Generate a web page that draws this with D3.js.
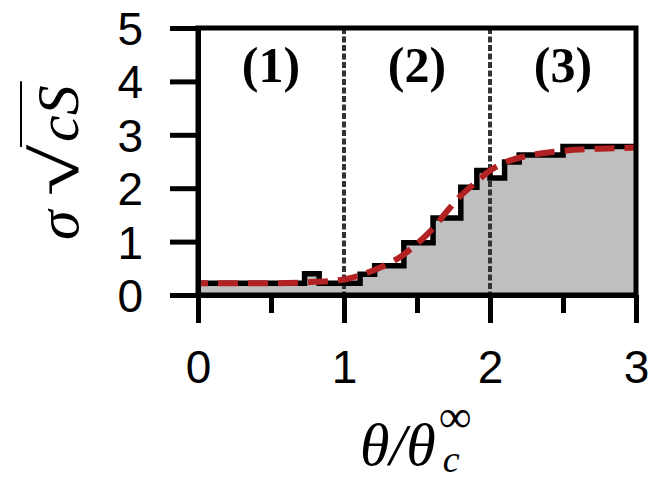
<!DOCTYPE html>
<head>
  <meta charset="utf-8">
  <script src="https://d3js.org/d3.v7.min.js"></script>
  <style>
    body { margin: 0; background: #fff; }
    .axis text { font-family: "Liberation Sans", Arial, sans-serif; font-size: 46px; fill: #000; }
    .axis path, .axis line { stroke: #000; stroke-width: 5px; }
    .region { font-family: "Liberation Serif", serif; font-weight: bold; font-size: 50px; text-anchor: middle; }
    .mathlabel { font-family: "Liberation Serif", serif; font-style: italic; }
  </style>
</head>

<body>
  <script>
    // histogram of sigma*sqrt(cS) vs theta/theta_c
    var stepEdges  = [0, 0.73, 0.83, 1.11, 1.21, 1.41, 1.61, 1.80, 1.91, 2.0, 2.1, 2.2, 2.5, 3.0];
    var stepValues = [0.22, 0.40, 0.22, 0.39, 0.55, 0.98, 1.44, 2.02, 2.33, 2.19, 2.49, 2.62, 2.78];

    // red dashed fit
    var fitTheta = [0, 0.25, 0.5, 0.75, 1.0, 1.1, 1.2, 1.3, 1.4, 1.5, 1.6, 1.7, 1.8, 1.9, 2.0, 2.1, 2.2, 2.3, 2.4, 2.5, 2.75, 3.0];
    var fitSigma = [0.22, 0.22, 0.22, 0.24, 0.29, 0.36, 0.46, 0.58, 0.74, 0.96, 1.22, 1.55, 1.86, 2.1, 2.33, 2.48, 2.57, 2.63, 2.67, 2.70, 2.74, 2.76];

    var regionPos = [1, 2];
    var regionLabels = ["(1)", "(2)", "(3)"];
    var regionCenters = [0.5, 1.5, 2.5];

    var xMajor = [0, 1, 2, 3];
    var xMinor = [0.5, 1.5, 2.5];
    var yTicks = [0, 1, 2, 3, 4, 5];

    var W = 664, H = 500;
    var plotLeft = 198, plotRight = 636, plotTop = 28, plotBottom = 295;

    var svg = d3.select("body").append("svg")
      .attr("width", W)
      .attr("height", H);

    var x = d3.scaleLinear().domain([0, 3]).range([plotLeft, plotRight]);
    var y = d3.scaleLinear().domain([0, 5]).range([plotBottom, plotTop]);

    var steps = stepEdges.map(function(e, i) {
      return { t: e, v: i < stepValues.length ? stepValues[i] : stepValues[stepValues.length - 1] };
    });
    var fit = fitTheta.map(function(t, i) { return { t: t, v: fitSigma[i] }; });

    // grey fill under histogram
    svg.append("path")
      .datum(steps)
      .attr("fill", "#bfbfbf")
      .attr("d", d3.area()
        .x(function(d) { return x(d.t); })
        .y0(y(0))
        .y1(function(d) { return y(d.v); })
        .curve(d3.curveStepAfter));

    // region dividers
    svg.selectAll(".divider")
      .data(regionPos)
      .enter().append("line")
      .attr("class", "divider")
      .attr("x1", function(d) { return x(d); })
      .attr("x2", function(d) { return x(d); })
      .attr("y1", y(5))
      .attr("y2", y(0))
      .attr("stroke", "#333")
      .attr("stroke-width", 4)
      .attr("stroke-dasharray", "6,2.5");

    // histogram outline
    svg.append("path")
      .datum(steps)
      .attr("fill", "none")
      .attr("stroke", "#000")
      .attr("stroke-width", 5.5)
      .attr("d", d3.line()
        .x(function(d) { return x(d.t); })
        .y(function(d) { return y(d.v); })
        .curve(d3.curveStepAfter));

    // fit curve
    svg.append("path")
      .datum(fit)
      .attr("fill", "none")
      .attr("stroke", "#b22222")
      .attr("stroke-width", 6)
      .attr("stroke-dasharray", "20,10")
      .attr("stroke-dashoffset", 10)
      .attr("d", d3.line()
        .x(function(d) { return x(d.t); })
        .y(function(d) { return y(d.v); })
        .curve(d3.curveMonotoneX));

    // frame
    svg.append("rect")
      .attr("x", plotLeft).attr("y", plotTop)
      .attr("width", plotRight - plotLeft).attr("height", plotBottom - plotTop)
      .attr("fill", "none")
      .attr("stroke", "#000")
      .attr("stroke-width", 5);

    // axes
    var xAxis = svg.append("g")
      .attr("class", "axis")
      .attr("transform", "translate(0," + plotBottom + ")")
      .call(d3.axisBottom(x).tickValues(xMajor).tickSize(28).tickSizeOuter(0).tickFormat(d3.format("d")));
    xAxis.selectAll("text").attr("y", 88).attr("dy", 0);

    svg.append("g")
      .attr("class", "axis")
      .attr("transform", "translate(0," + plotBottom + ")")
      .call(d3.axisBottom(x).tickValues(xMinor).tickSize(18).tickSizeOuter(0).tickFormat(""))
      .select(".domain").remove();

    var yAxis = svg.append("g")
      .attr("class", "axis")
      .attr("transform", "translate(" + plotLeft + ",0)")
      .call(d3.axisLeft(y).tickValues(yTicks).tickSize(28).tickSizeOuter(0).tickFormat(d3.format("d")));
    yAxis.selectAll("text").attr("x", -55).attr("dy", "0.36em");
    svg.selectAll(".axis line").attr("stroke-linecap", "butt");

    // region labels
    svg.selectAll(".region")
      .data(regionLabels)
      .enter().append("text")
      .attr("class", "region")
      .attr("x", function(d, i) { return x(regionCenters[i]); })
      .attr("y", 82)
      .text(function(d) { return d; });

    // x label: theta / theta_c^inf
    var xl = svg.append("text")
      .attr("class", "mathlabel")
      .attr("x", 360)
      .attr("y", 465)
      .attr("font-size", 60)
      .text("θ/θ");
    var xlEnd = 360 + xl.node().getComputedTextLength();
    svg.append("text")
      .attr("x", xlEnd + 3)
      .attr("y", 432)
      .attr("font-family", "Liberation Serif, serif")
      .attr("font-size", 46)
      .text("∞");
    svg.append("text")
      .attr("class", "mathlabel")
      .attr("x", xlEnd + 7)
      .attr("y", 472)
      .attr("font-size", 38)
      .text("c");

    // y label: sigma sqrt(cS), rotated
    var yl = svg.append("g")
      .attr("transform", "translate(78,242) rotate(-90)");
    yl.append("text")
      .attr("class", "mathlabel")
      .attr("x", 2).attr("y", 0)
      .attr("font-size", 60)
      .text("σ");
    var rad = yl.append("text")
      .attr("x", 0).attr("y", 0)
      .attr("font-family", "Liberation Serif, serif")
      .attr("font-size", 70)
      .text("√");
    // fit radical sign into its box
    var rb = rad.node().getBBox();
    var rx0 = 46, rx1 = 98, ry0 = -58, ry1 = 14;
    var sx = (rx1 - rx0) / rb.width, sy = (ry1 - ry0) / rb.height;
    rad.attr("transform", "translate(" + (rx0 - rb.x * sx) + "," + (ry0 - rb.y * sy) + ") scale(" + sx + "," + sy + ")");
    var cs = yl.append("text")
      .attr("class", "mathlabel")
      .attr("x", 100).attr("y", 0)
      .attr("font-size", 60)
      .text("cS");
    var cb = cs.node().getBBox();
    yl.append("line")
      .attr("x1", rx1 - 3)
      .attr("x2", cb.x + cb.width + 4)
      .attr("y1", ry0 + 1).attr("y2", ry0 + 1)
      .attr("stroke", "#000")
      .attr("stroke-width", 2);
  </script>
</body>
